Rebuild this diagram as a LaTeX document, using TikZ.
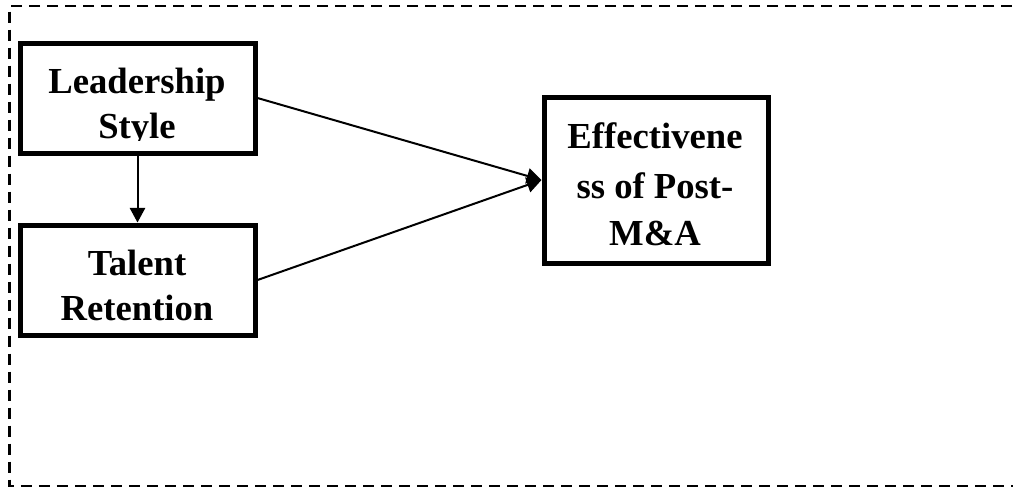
\documentclass[tikz,border=0pt]{standalone}
\usepackage{fontspec}
\setmainfont{Liberation Serif}
\usetikzlibrary{arrows.meta}
\tikzset{
  box/.style={draw=black, line width=3.75pt, fill=white, inner sep=0pt},
  lbl/.style={inner sep=0pt, anchor=base, font=\bfseries\fontsize{27.5}{33}\selectfont},
  conn/.style={line width=1.5pt, -{Triangle[length=11pt,width=11.5pt]}},
  frame/.style={line width=1.7pt, dash pattern=on 8.25pt off 5.25pt}
}
\begin{document}
\begin{tikzpicture}[x=0.75pt,y=-0.75pt]
\useasboundingbox (0,0) rectangle (1013,487);
\draw[frame] (1030,6) -- (9.5,6) -- (9.5,486) -- (1030,486);
\node[box, minimum width=176.25pt, minimum height=82.5pt] (ls) at (137.5,98) {};
\node[box, minimum width=176.25pt, minimum height=82.5pt] (tr) at (137.5,280) {};
\node[box, minimum width=168pt, minimum height=124.5pt] (ef) at (656,180) {};
\begin{scope}
\clip (22,45) rectangle (253,140);
\node[lbl] (ls1) at (137,93) {Leadership};
\node[lbl] (ls2) at (137,138) {Style};
\end{scope}
\begin{scope}
\clip (22,227) rectangle (253,322);
\node[lbl] (tr1) at (137,275) {Talent};
\node[lbl] (tr2) at (137,320) {Retention};
\end{scope}
\node[lbl] (ef1) at (655,148) {Effectivene};
\node[lbl] (ef2) at (655,198) {ss of Post-};
\node[lbl] (ef3) at (655,245) {M\&A};
\draw[conn] (ls.south) -- (tr.north);
\draw[conn] (ls.east) -- (ef.west);
\draw[conn] (tr.east) -- (ef.west);
\end{tikzpicture}
\end{document}
